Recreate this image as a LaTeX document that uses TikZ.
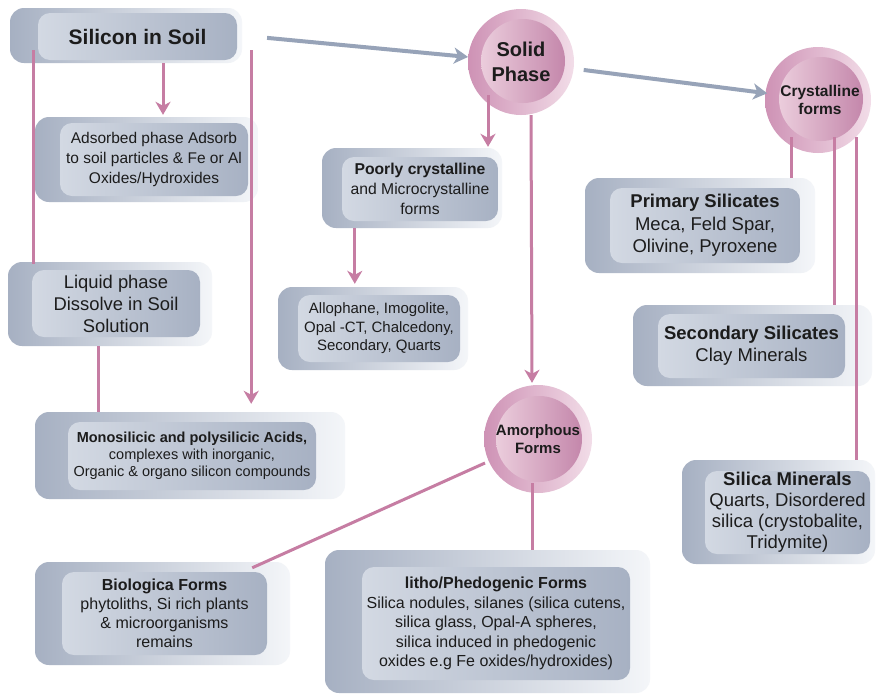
\documentclass[tikz,border=0pt]{standalone}
\usepackage{fontspec}
\setmainfont{Liberation Sans}
\usetikzlibrary{arrows.meta,calc}

\definecolor{outL}{HTML}{A6B0C2}
\definecolor{outR}{HTML}{F4F6F9}
\definecolor{innL}{HTML}{D3D9E3}
\definecolor{innR}{HTML}{A7B1C3}
\definecolor{ballL}{HTML}{CE92B5}
\definecolor{ballR}{HTML}{F2DDE8}
\definecolor{faceL}{HTML}{EBCDDC}
\definecolor{faceR}{HTML}{C487AB}
\definecolor{linkpink}{HTML}{C67DA3}
\definecolor{flowgrey}{HTML}{97A3B8}
\definecolor{ink}{HTML}{1C1C1C}

\tikzset{
  back/.style={rectangle, rounded corners=14pt, left color=outL, right color=outR, draw=none, inner sep=0pt},
  face/.style={rectangle, rounded corners=12pt, left color=innL, right color=innR, draw=none,
               text=ink, align=center, inner sep=0pt},
  ballback/.style={circle, shading=axis, shading angle=-60, left color=ballL, right color=ballR, draw=none, inner sep=0pt},
  ballface/.style={circle, left color=faceL, right color=faceR, draw=none, inner sep=0pt},
  balltext/.style={circle, inner sep=0pt, align=center, text=ink},
  link/.style={draw=linkpink, line width=3pt},
  linkarrow/.style={link, -{Stealth[length=13pt,width=15pt,inset=4pt]}},
  flow/.style={draw=flowgrey, line width=4pt, -{Stealth[length=14pt,width=16pt,inset=4pt]}},
}

\begin{document}
\begin{tikzpicture}[x=1pt,y=-1pt]
\useasboundingbox (0,0) rectangle (881,697);
\fill[white] (0,0) rectangle (881,697);

% ---------- boxes: a faded back plate with a framed face on top ----------
\node[back, minimum width=232pt, minimum height=55pt] (soilBack) at (126,35.5) {};
\node[face, minimum width=199pt, minimum height=47pt, font=\fontsize{21}{25}\selectfont\bfseries]
  (soil) at (137.5,36.5) {Silicon in Soil};

\node[back, minimum width=223pt, minimum height=85pt] (adsorbBack) at (146.5,159.5) {};
\node[face, minimum width=188pt, minimum height=73pt, font=\fontsize{15.5}{20}\selectfont]
  (adsorb) at (154,159.5) {Adsorbed phase Adsorb\\to soil particles \& Fe or Al\\Oxides/Hydroxides};

\node[back, minimum width=204pt, minimum height=84pt] (liquidBack) at (110,304) {};
\node[face, minimum width=168pt, minimum height=67pt, font=\fontsize{18.4}{22}\selectfont]
  (liquid) at (116,303.5) {Liquid phase\\Dissolve in Soil\\Solution};

\node[back, minimum width=310pt, minimum height=87pt] (monoBack) at (190,455.5) {};
\node[face, minimum width=248pt, minimum height=68pt, font=\fontsize{14.5}{17}\selectfont]
  (mono) at (192,456) {{\bfseries Monosilicic and polysilicic Acids,}\\complexes with inorganic,\\Organic \& organo silicon compounds};

\node[back, minimum width=180pt, minimum height=80pt] (poorlyBack) at (412,188) {};
\node[face, minimum width=156pt, minimum height=64pt, font=\fontsize{15.7}{20}\selectfont]
  (poorly) at (420,189) {{\bfseries Poorly crystalline}\\and Microcrystalline\\forms};

\node[back, minimum width=190pt, minimum height=83pt] (alloBack) at (373,328.5) {};
\node[face, minimum width=162pt, minimum height=67pt, font=\fontsize{15}{18.5}\selectfont]
  (allo) at (379,328.5) {Allophane, Imogolite,\\Opal -CT, Chalcedony,\\Secondary, Quarts};

\node[back, minimum width=230pt, minimum height=95pt] (primBack) at (700,225.5) {};
\node[face, minimum width=190pt, minimum height=75pt, font=\fontsize{18.5}{22.5}\selectfont]
  (prim) at (705,225.5) {{\bfseries Primary Silicates}\\Meca, Feld Spar,\\Olivine, Pyroxene};

\node[back, minimum width=239pt, minimum height=81pt] (secBack) at (752.5,345.5) {};
\node[face, minimum width=187pt, minimum height=64pt, font=\fontsize{18.5}{22}\selectfont]
  (sec) at (751.5,346) {{\bfseries Secondary Silicates}\\Clay Minerals};

\node[back, minimum width=193pt, minimum height=104pt] (silBack) at (778.5,512) {};
\node[face, minimum width=165pt, minimum height=83pt, font=\fontsize{18.5}{21}\selectfont]
  (sil) at (787.5,512.5) {{\bfseries Silica Minerals}\\Quarts, Disordered\\silica (crystobalite,\\Tridymite)};

\node[back, minimum width=255pt, minimum height=103pt] (bioBack) at (162.5,613.5) {};
\node[face, minimum width=205pt, minimum height=83pt, font=\fontsize{16}{19}\selectfont]
  (bio) at (164.5,613.5) {{\bfseries Biologica Forms}\\phytoliths, Si rich plants\\\& microorganisms\\remains};

\node[back, minimum width=325pt, minimum height=143pt] (lithoBack) at (487.5,621.5) {};
\node[face, minimum width=268pt, minimum height=113pt, font=\fontsize{16}{19.5}\selectfont]
  (litho) at (496,623.5) {{\bfseries litho/Phedogenic Forms}\\Silica nodules, silanes (silica cutens,\\silica glass, Opal-A spheres,\\silica induced in phedogenic\\oxides e.g Fe oxides/hydroxides)};

% ---------- phase circles ----------
\node[ballback, minimum size=106pt] (solidBack) at (521,62) {};
\node[ballface, minimum size=84pt] (solidFace) at (523,61) {};
\node[balltext, minimum size=106pt, font=\fontsize{20}{24.5}\selectfont\bfseries]
  (solid) at (521,62) {Solid\\Phase};

\node[ballback, minimum size=106pt] (crysBack) at (818,100) {};
\node[ballface, minimum size=84pt] (crysFace) at (821,99) {};
\node[balltext, minimum size=106pt, font=\fontsize{15.5}{18}\selectfont\bfseries]
  (crys) at (820,100) {Crystalline\\forms};

\node[ballback, minimum size=108pt] (amorBack) at (538,439) {};
\node[ballface, minimum size=86pt] (amorFace) at (539,439) {};
\node[balltext, minimum size=108pt, font=\fontsize{15}{17.5}\selectfont\bfseries]
  (amor) at (538,439) {Amorphous\\Forms};

% ---------- grey flow arrows between the main stages ----------
\draw[flow, shorten <=25pt] (soilBack.east) -- (solid);
\draw[flow, shorten <=10pt] (solid) -- (crys);

% ---------- pink branches ----------
\draw[linkarrow] ($(soilBack.south)+(37,0)$) -- ($(soilBack.south |- adsorbBack.north)+(37,-2)$);
\draw[link] ($(soilBack.south west)+(24,-13)$) -- ($(soilBack.south west |- liquidBack.north)+(24,2)$);
\draw[linkarrow] ($(soilBack.south east)+(9,-13)$) -- ($(soilBack.south east |- monoBack.north)+(9,-8)$);
\draw[link] ($(liquidBack.south)+(-12,0)$) -- ($(liquidBack.south |- monoBack.north)+(-12,0)$);

\draw[linkarrow] ($(solid.center)+(-33,33)$) -- ($(solid.center |- poorlyBack.north)+(-33,-1)$);
\draw[linkarrow] ($(solid.south)+(10,0)$) -- ($(amor.north)+(-6,-2)$);
\draw[linkarrow] ($(poorlyBack.south west)+(33,0)$) -- ($(poorlyBack.south west |- alloBack.north)+(33,-3)$);

\draw[link] ($(crys.center)+(-29,37)$) -- ($(crys.center |- primBack.north)+(-29,0)$);
\draw[link] ($(crys.center)+(14,37)$) -- ($(crys.center |- secBack.north)+(14,0)$);
\draw[link] ($(crys.center)+(36,37)$) -- ($(crys.center |- silBack.north)+(36,0)$);

\draw[link] ($(amor.south)+(-6,-10)$) -- ($(amor.south |- lithoBack.north)+(-6,0)$);
\draw[link] ($(amor.center)+(-53,24)$) -- ($(bioBack.north east)+(-38,6)$);
\end{tikzpicture}
\end{document}
